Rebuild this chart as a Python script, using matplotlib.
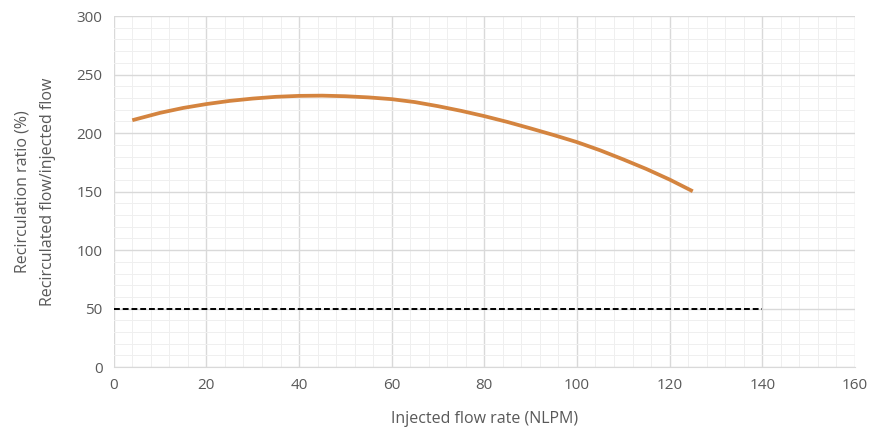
import matplotlib.pyplot as plt
from matplotlib.ticker import MultipleLocator

# data
flow = [4, 10, 15, 20, 25, 30, 35, 40, 45, 50, 55, 60, 65,
        70, 75, 80, 85, 90, 95, 100, 105, 110, 115, 120, 125]
ratio = [211, 217.3, 221.5, 224.8, 227.5, 229.5, 231, 231.8, 232, 231.5, 230.5, 229, 226.5,
         223, 219, 214.5, 209.5, 204, 198.3, 192.3, 185.3, 177.5, 169.3, 160.3, 150.3]
ref_x = [0, 140]
ref_y = [50, 50]

plt.rcParams['font.family'] = ['Open Sans', 'DejaVu Sans']
grey = '#595959'

fig = plt.figure(figsize=(8.75, 4.34), dpi=100)
ax = fig.add_axes([0.130, 0.154, 0.847, 0.809])

ax.plot(flow, ratio, color='#D4843F', lw=2.7, solid_capstyle='butt',
        solid_joinstyle='round', zorder=3)
ax.plot(ref_x, ref_y, color='black', lw=1.4, ls=(0, (3, 1.5)), zorder=3)

ax.set_xlim(0, 160)
ax.set_ylim(0, 300)
ax.xaxis.set_major_locator(MultipleLocator(20))
ax.xaxis.set_minor_locator(MultipleLocator(4))
ax.yaxis.set_major_locator(MultipleLocator(50))
ax.yaxis.set_minor_locator(MultipleLocator(10))
ax.grid(which='major', color='#D9D9D9', lw=1.0)
ax.grid(which='minor', color='#EFEFEF', lw=0.7)
ax.set_axisbelow(True)

for s in ax.spines.values():
    s.set_visible(False)
ax.spines['bottom'].set_visible(True)
ax.spines['bottom'].set_color('#D9D9D9')

ax.tick_params(which='both', length=0, colors=grey, labelsize=11, pad=8)
ax.set_xlabel('Injected flow rate (NLPM)', color=grey, fontsize=11.5, labelpad=13)
ax.set_ylabel('Recirculation ratio (%)\nRecirculated flow/injected flow',
              color=grey, fontsize=11.5, labelpad=15, linespacing=1.75)

fig.savefig('out.png', dpi=100)
